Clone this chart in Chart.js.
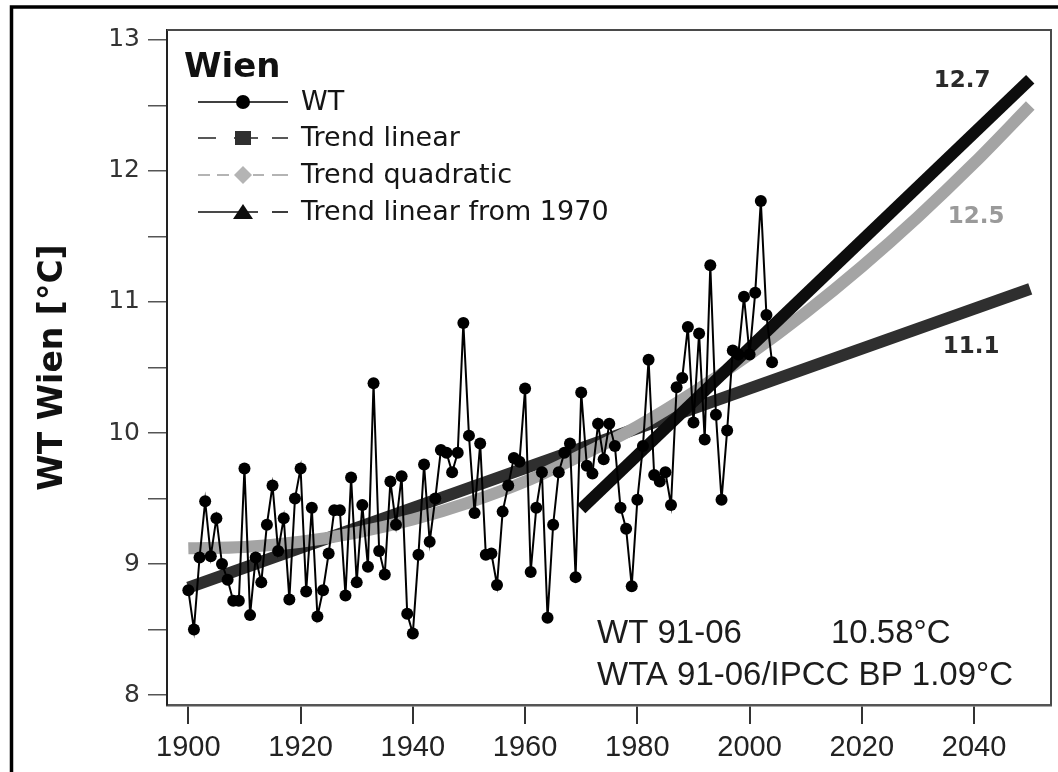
<!DOCTYPE html>
<html>
<head>
<meta charset="utf-8">
<script src="https://cdn.jsdelivr.net/npm/chart.js@4.4.1/dist/chart.umd.min.js"></script>
<style>
  html, body { margin: 0; padding: 0; background: #fff; }
  #wrap { width: 1058px; height: 772px; position: relative; }
</style>
</head>
<body>
<div id="wrap"><canvas id="c" width="1058" height="772"></canvas></div>
<script>
// Annual mean temperature, Vienna (°C), one value per year from 1900
const STATION = 'Wien';
const FIRST_YEAR = 1900;
const WT = [
  8.80, 8.50, 9.05, 9.48, 9.06, 9.35, 9.00, 8.88, 8.72, 8.72,   // 1900-1909
  9.73, 8.61, 9.05, 8.86, 9.30, 9.60, 9.10, 9.35, 8.73, 9.50,   // 1910-1919
  9.73, 8.79, 9.43, 8.60, 8.80, 9.08, 9.41, 9.41, 8.76, 9.66,   // 1920-1929
  8.86, 9.45, 8.98, 10.38, 9.10, 8.92, 9.63, 9.30, 9.67, 8.62,  // 1930-1939
  8.47, 9.07, 9.76, 9.17, 9.50, 9.87, 9.85, 9.70, 9.85, 10.84,  // 1940-1949
  9.98, 9.39, 9.92, 9.07, 9.08, 8.84, 9.40, 9.60, 9.81, 9.78,   // 1950-1959
  10.34, 8.94, 9.43, 9.70, 8.59, 9.30, 9.70, 9.85, 9.92, 8.90,  // 1960-1969
  10.31, 9.75, 9.69, 10.07, 9.80, 10.07, 9.90, 9.43, 9.27, 8.83, // 1970-1979
  9.49, 9.90, 10.56, 9.68, 9.63, 9.70, 9.45, 10.35, 10.42, 10.81, // 1980-1989
  10.08, 10.76, 9.95, 11.28, 10.14, 9.49, 10.02, 10.63, 10.60, 11.04, // 1990-1999
  10.60, 11.07, 11.77, 10.90, 10.54                               // 2000-2004
];

// Fitted trends, given at their read-off support years
const TREND_LINEAR_YEARS = [1900, 2050];
const TREND_LINEAR = [8.82, 11.1];
const TREND_QUAD_YEARS = [1900, 1910, 1920, 1930, 1940, 1950, 1960, 1970,
                          1980, 1990, 2000, 2010, 2020, 2030, 2040, 2050];
const TREND_QUAD = [9.12, 9.13, 9.17, 9.24, 9.34, 9.47, 9.63, 9.83,
                    10.05, 10.31, 10.60, 10.92, 11.27, 11.65, 12.06, 12.5];
const TREND_1970_YEARS = [1970, 2050];
const TREND_1970 = [9.42, 12.7];

// Axis ticks
const X_TICKS = [1900, 1920, 1940, 1960, 1980, 2000, 2020, 2040];
const Y_TICKS = [8, 8.5, 9, 9.5, 10, 10.5, 11, 11.5, 12, 12.5, 13];
const Y_LABELS = [8, 9, 10, 11, 12, 13];

// Series names and the summary note
const SERIES_NAMES = ['WT', 'Trend linear', 'Trend quadratic', 'Trend linear from 1970'];
const Y_TITLE = 'WT Wien [°C]';
const NOTE = [['WT 91-06', '10.58°C'], ['WTA 91-06/IPCC BP 1.09°C']];

const pts = (xs, ys) => ys.map((v, i) => ({ x: xs[i], y: v }));
const wtPoints = WT.map((v, i) => ({ x: FIRST_YEAR + i, y: v }));

const COL_WT = '#000000';
const COL_LIN = '#2f2f2f';
const COL_QUAD = '#a4a4a4';
const COL_1970 = '#0d0d0d';
const BAND = 12;

const datasets = [
  { label: SERIES_NAMES[0], data: wtPoints, borderColor: COL_WT, backgroundColor: COL_WT,
    borderWidth: 2, pointRadius: 6, pointHoverRadius: 6, pointBorderWidth: 0, tension: 0 },
  { label: SERIES_NAMES[3], data: pts(TREND_1970_YEARS, TREND_1970), borderColor: COL_1970,
    backgroundColor: COL_1970, borderWidth: BAND, pointRadius: 0 },
  { label: SERIES_NAMES[2], data: pts(TREND_QUAD_YEARS, TREND_QUAD), borderColor: COL_QUAD,
    backgroundColor: COL_QUAD, borderWidth: BAND, pointRadius: 0, cubicInterpolationMode: 'monotone' },
  { label: SERIES_NAMES[1], data: pts(TREND_LINEAR_YEARS, TREND_LINEAR), borderColor: COL_LIN,
    backgroundColor: COL_LIN, borderWidth: BAND, pointRadius: 0 }
];

// Legend samples: line segments (x offsets) and a marker shape per series
const LEGEND_STYLE = [
  { color: COL_WT,   segs: [[0, 90]],                     marker: 'circle',   lw: 1.6 },
  { color: COL_LIN,  segs: [[0, 18], [36, 60], [74, 90]],  marker: 'square',   lw: 1.6 },
  { color: '#b4b4b4', segs: [[0, 12], [19, 31], [55, 66], [74, 90]], marker: 'diamond', lw: 2 },
  { color: COL_1970, segs: [[0, 60], [74, 90]],           marker: 'triangle', lw: 1.6 }
];

function drawMarker(ctx, shape, x, y, color) {
  ctx.fillStyle = color;
  ctx.beginPath();
  if (shape === 'circle') ctx.arc(x, y, 7, 0, Math.PI * 2);
  else if (shape === 'square') ctx.rect(x - 8, y - 7, 16, 14);
  else if (shape === 'diamond') { ctx.moveTo(x, y - 9); ctx.lineTo(x + 9, y); ctx.lineTo(x, y + 9); ctx.lineTo(x - 9, y); ctx.closePath(); }
  else if (shape === 'triangle') { ctx.moveTo(x, y - 8); ctx.lineTo(x + 10, y + 7); ctx.lineTo(x - 10, y + 7); ctx.closePath(); }
  ctx.fill();
}

const decor = {
  id: 'decor',
  beforeDraw(chart) {
    const ctx = chart.ctx;
    ctx.save();
    ctx.fillStyle = '#fff';
    ctx.fillRect(0, 0, chart.width, chart.height);
    ctx.restore();
  },
  afterDraw(chart) {
    const { ctx, chartArea: a, scales: { x, y } } = chart;
    ctx.save();
    // outer picture frame
    ctx.strokeStyle = '#000';
    ctx.lineWidth = 3.5;
    ctx.strokeRect(11.5, 7, chart.width + 40, chart.height + 40);
    // plot box: top and right edges
    ctx.strokeStyle = '#4a4a4a';
    ctx.lineWidth = 2;
    ctx.beginPath();
    ctx.moveTo(a.left, a.top);
    ctx.lineTo(a.right, a.top);
    ctx.lineTo(a.right, a.bottom);
    ctx.stroke();

    // legend
    const lx = a.left + 31, tx = a.left + 134;
    ctx.fillStyle = '#111';
    ctx.textBaseline = 'alphabetic';
    ctx.textAlign = 'left';
    ctx.font = 'bold 34px "DejaVu Sans"';
    ctx.fillText(STATION, a.left + 17, 77);
    const rows = [102, 138, 175, 212];
    const order = [0, 1, 2, 3];
    ctx.font = '27px "DejaVu Sans"';
    order.forEach((k, i) => {
      const st = LEGEND_STYLE[k];
      const ry = rows[i];
      ctx.strokeStyle = st.color;
      ctx.lineWidth = st.lw;
      st.segs.forEach(([s, e]) => {
        ctx.beginPath();
        ctx.moveTo(lx + s, ry);
        ctx.lineTo(lx + e, ry);
        ctx.stroke();
      });
      drawMarker(ctx, st.marker, lx + 45, ry, st.color);
      ctx.fillStyle = '#151515';
      ctx.textBaseline = 'middle';
      ctx.fillText(SERIES_NAMES[k], tx, ry + 1);
    });

    // end-of-trend value labels
    ctx.font = 'bold 23px "DejaVu Sans"';
    ctx.textAlign = 'center';
    ctx.textBaseline = 'middle';
    const endLabel = (years, vals, dx, dy, color) => {
      const n = vals.length - 1;
      const px = x.getPixelForValue(years[n]);
      const py = y.getPixelForValue(vals[n]);
      ctx.fillStyle = color;
      ctx.fillText(vals[n].toFixed(1), px + dx, py + dy);
    };
    endLabel(TREND_1970_YEARS, TREND_1970, -68, 2, '#2a2a2a');
    endLabel(TREND_QUAD_YEARS, TREND_QUAD, -54, 112, '#9a9a9a');
    endLabel(TREND_LINEAR_YEARS, TREND_LINEAR, -59, 58, '#2a2a2a');

    // summary note
    ctx.font = '33px "Liberation Sans"';
    ctx.textAlign = 'left';
    ctx.fillStyle = '#1c1c1c';
    ctx.fillText(NOTE[0][0], 597, 634);
    ctx.fillText(NOTE[0][1], 831, 634);
    ctx.fillText(NOTE[1][0], 597, 676);
    ctx.restore();
  }
};

new Chart(document.getElementById('c'), {
  type: 'line',
  data: { datasets },
  options: {
    responsive: false,
    animation: false,
    devicePixelRatio: 1,
    layout: { padding: { left: 0, top: 30, right: 7, bottom: 0 } },
    plugins: { legend: { display: false }, tooltip: { enabled: false } },
    scales: {
      x: {
        type: 'linear',
        min: 1896.2,
        max: 2053.7,
        afterBuildTicks: s => { s.ticks = X_TICKS.map(v => ({ value: v })); },
        afterFit: s => { s.height = 67; },
        ticks: { font: { family: '"Liberation Sans Narrow", "Liberation Sans"', size: 29 }, color: '#222', padding: 7,
                 maxRotation: 0, autoSkip: false, callback: v => String(v) },
        grid: { drawOnChartArea: false, drawTicks: true, tickLength: 19, color: '#333', lineWidth: 2 },
        border: { display: true, color: '#555', width: 2.5 }
      },
      y: {
        type: 'linear',
        min: 7.924,
        max: 13.076,
        afterBuildTicks: s => { s.ticks = Y_TICKS.map(v => ({ value: v })); },
        afterFit: s => { s.width = 167; },
        ticks: { font: { family: 'DejaVu Sans', size: 25 }, color: '#333', padding: 8,
                 autoSkip: false, callback: v => (Y_LABELS.includes(v) ? String(v) : '') },
        grid: { drawOnChartArea: false, drawTicks: true, tickLength: 19, color: '#555', lineWidth: 1.5 },
        border: { display: true, color: '#222', width: 2 },
        title: { display: true, text: Y_TITLE, color: '#111',
                 font: { family: 'DejaVu Sans', size: 33, weight: 'bold' },
                 padding: { top: 34, bottom: 0 } }
      }
    }
  },
  plugins: [decor]
});
</script>
</body>
</html>
